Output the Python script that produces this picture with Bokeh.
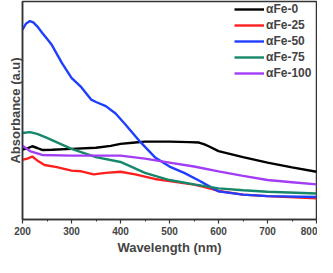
from bokeh.plotting import figure
from bokeh.models import Range1d, FixedTicker, Legend, LegendItem
from bokeh.embed import file_html
from bokeh.resources import INLINE

# Wavelength grids (nm) and absorbance (arbitrary units)
wl_fe0 = [200, 210, 220, 230, 240, 260, 300, 350, 380, 400, 430, 450, 500, 540, 560, 570, 580, 600, 650, 700, 750, 800]
ab_fe0 = [32.1, 32.6, 33.6, 32.8, 31.9, 32.0, 32.4, 32.9, 33.8, 34.7, 35.3, 35.7, 35.7, 35.5, 35.3, 34.6, 33.6, 31.4, 28.6, 26.1, 23.9, 21.9]

wl_fe25 = [200, 210, 220, 230, 245, 270, 300, 320, 345, 370, 400, 430, 470, 500, 550, 570, 600, 650, 700, 800]
ab_fe25 = [27.4, 27.9, 28.9, 27.1, 25.0, 24.0, 22.4, 22.1, 20.7, 21.4, 21.9, 20.7, 18.6, 17.6, 16.0, 15.0, 13.1, 11.4, 10.7, 9.7]

wl_fe50 = [200, 207, 215, 222, 230, 240, 250, 260, 280, 300, 320, 340, 350, 370, 390, 410, 440, 470, 500, 530, 560, 600, 650, 700, 800]
ab_fe50 = [87.1, 89.8, 91.0, 90.4, 88.6, 85.7, 82.9, 80.0, 72.0, 65.0, 60.7, 55.0, 53.9, 52.0, 48.6, 43.6, 35.7, 28.6, 24.3, 21.4, 17.9, 12.9, 11.4, 10.7, 10.3]

wl_fe75 = [200, 215, 230, 250, 300, 350, 400, 450, 500, 550, 600, 650, 700, 800]
ab_fe75 = [39.7, 40.1, 39.3, 37.4, 32.4, 28.6, 26.4, 21.4, 18.1, 16.1, 14.3, 13.4, 12.7, 11.9]

wl_fe100 = [200, 215, 240, 300, 350, 400, 450, 500, 550, 600, 650, 700, 750, 800]
ab_fe100 = [33.9, 31.4, 29.6, 29.3, 29.3, 29.3, 27.9, 26.1, 24.3, 22.1, 20.0, 18.1, 17.1, 16.1]

labels = ["\u03b1Fe-0", "\u03b1Fe-25", "\u03b1Fe-50", "\u03b1Fe-75", "\u03b1Fe-100"]
colors = ["#000000", "#ff1f1f", "#1f3fff", "#16876b", "#a33df5"]
x_ticks = [200, 300, 400, 500, 600, 700, 800]

series = [(wl_fe0, ab_fe0), (wl_fe25, ab_fe25), (wl_fe50, ab_fe50), (wl_fe75, ab_fe75), (wl_fe100, ab_fe100)]

p = figure(width=317, height=257, output_backend="svg", toolbar_location=None,
           x_range=Range1d(200, 800), y_range=Range1d(0, 100),
           min_border_left=22, min_border_right=1, min_border_top=1, min_border_bottom=0)
p.grid.visible = False
p.outline_line_color = "#333333"
p.outline_line_width = 1.5
p.background_fill_color = "white"

items = []
for (xs, ys), lab, c in zip(series, labels, colors):
    r = p.line(xs, ys, line_color=c, line_width=2.4)
    items.append(LegendItem(label=lab, renderers=[r]))

legend = Legend(items=items, location="top_right", margin=0, padding=17,
                glyph_width=30, glyph_height=16, label_height=16, label_width=50,
                label_standoff=2, spacing=0,
                label_text_font="Liberation Sans", label_text_font_style="bold",
                label_text_font_size="12px", border_line_color=None,
                background_fill_alpha=0)
p.add_layout(legend)

xa = p.xaxis[0]
xa.ticker = FixedTicker(ticks=x_ticks, minor_ticks=[250, 350, 450, 550, 650, 750])
xa.axis_label = "Wavelength (nm)"
xa.axis_label_text_font = "Liberation Sans"
xa.axis_label_text_font_style = "bold"
xa.axis_label_text_font_size = "13px"
xa.axis_label_standoff = 2
xa.major_label_text_font = "Liberation Sans"
xa.major_label_text_font_style = "bold"
xa.major_label_text_font_size = "10px"
xa.major_label_standoff = 3
xa.major_tick_out = 4
xa.major_tick_in = 0
xa.minor_tick_out = 2
xa.minor_tick_in = 0
xa.axis_line_color = "#333333"
xa.axis_line_width = 1.5
xa.major_tick_line_color = "#333333"
xa.major_tick_line_width = 1.2
xa.minor_tick_line_color = "#333333"

ya = p.yaxis[0]
ya.ticker = FixedTicker(ticks=[])
ya.axis_label = "Absorbance (a.u)"
ya.axis_label_text_font = "Liberation Sans"
ya.axis_label_text_font_style = "bold"
ya.axis_label_text_font_size = "13px"
ya.axis_label_standoff = 0
ya.major_tick_line_color = None
ya.minor_tick_line_color = None
ya.axis_line_color = "#333333"
ya.axis_line_width = 1.5

open("out.html", "w").write(file_html(p, INLINE))
